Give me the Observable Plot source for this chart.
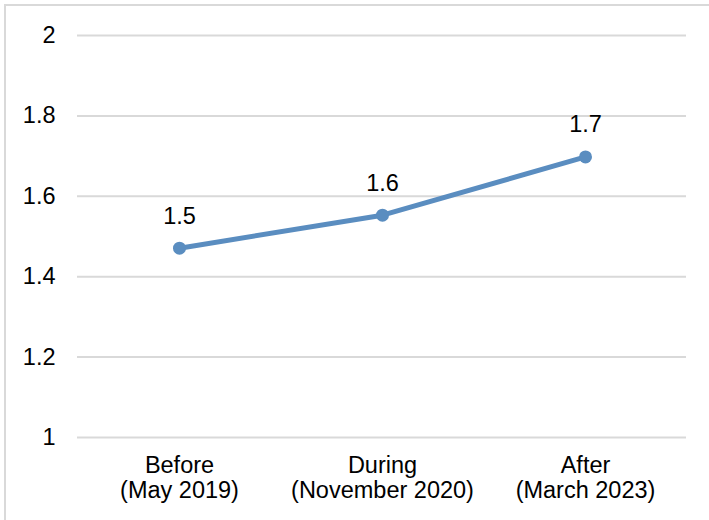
<!DOCTYPE html>
<html>
<head>
<meta charset="utf-8">
<script src="https://cdn.jsdelivr.net/npm/d3@7"></script>
<script src="https://cdn.jsdelivr.net/npm/@observablehq/plot@0.6"></script>
<style>
  html, body { margin: 0; padding: 0; background: #fff; }
  #wrap { position: relative; width: 709px; height: 520px; overflow: hidden; }
  #frame { position: absolute; left: 4px; top: 4px; width: 800px; height: 600px;
           border-left: 2px solid #d9d9d9; border-top: 2px solid #d9d9d9; pointer-events: none; }
  svg { display: block; }
</style>
</head>
<body>
<div id="wrap"><div id="frame"></div></div>
<script>
const categories = ["Before", "During", "After"];
const periods = ["(May 2019)", "(November 2020)", "(March 2023)"];
const values = [1.471, 1.553, 1.698];
const labels = ["1.5", "1.6", "1.7"];
const yTicks = [1, 1.2, 1.4, 1.6, 1.8, 2];

const data = categories.map((c, i) => ({cat: c, value: values[i], label: labels[i]}));
const tickText = new Map(categories.map((c, i) => [c, c + "\n" + periods[i]]));
const color = "#5a8dc0";
const fs = 23.5;

const chart = Plot.plot({
  width: 709,
  height: 520,
  marginLeft: 77,
  marginRight: 23,
  marginTop: 35,
  marginBottom: 83,
  style: {fontFamily: "Liberation Sans, Arial, sans-serif", fontSize: fs + "px", color: "#000", background: "transparent"},
  x: {type: "point", domain: categories, padding: 0.5},
  y: {domain: [1, 2]},
  marks: [
    Plot.ruleY(yTicks, {stroke: "#d9d9d9", strokeWidth: 2, strokeOpacity: 1}),
    Plot.axisY(yTicks, {tickSize: 0, tickPadding: 22, tickFormat: d => String(+d.toFixed(1)), fontSize: fs, fill: "#000", label: null}),
    Plot.axisX({tickSize: 0, tickPadding: 17, tickFormat: d => tickText.get(d), fontSize: fs, fill: "#000", label: null, lineHeight: 1.08}),
    Plot.line(data, {x: "cat", y: "value", stroke: color, strokeWidth: 5}),
    Plot.dot(data, {x: "cat", y: "value", r: 6.5, fill: color, stroke: "none"}),
    Plot.text(data, {x: "cat", y: "value", text: "label", dy: -32, fontSize: fs, fill: "#000"})
  ]
});
document.getElementById("wrap").prepend(chart);
chart.style.position = "absolute";
chart.style.left = "0px";
chart.style.top = "0px";
</script>
</body>
</html>
